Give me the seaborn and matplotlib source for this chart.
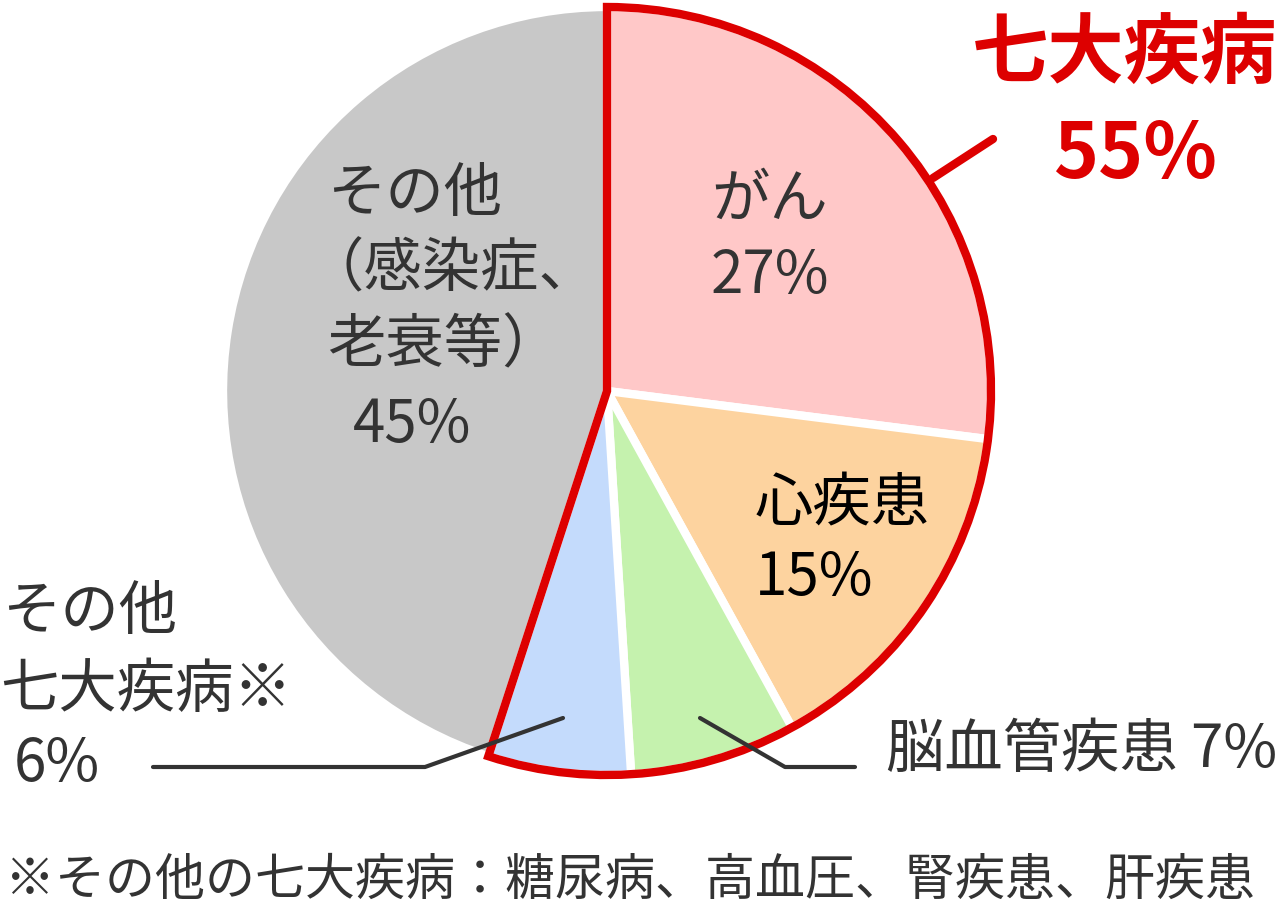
import matplotlib
matplotlib.use('Agg')
import matplotlib.pyplot as plt
from matplotlib.patches import Wedge
import seaborn as sns

# data
labels = ['がん', '心疾患', '脳血管疾患', 'その他七大疾病', 'その他']
shares = [27, 15, 7, 6, 45]
colors = ['#ffc8c8', '#fdd39f', '#c5f2ae', '#c4dbfc', '#c8c8c8']
major_label = '七大疾病'
major_share = sum(shares[:4])
note = '※その他の七大疾病：糖尿病、高血圧、腎疾患、肝疾患'

sns.set_theme(style='white')
plt.rcParams['font.family'] = ['Noto Sans CJK JP', 'DejaVu Sans']

W, H = 1284, 906
RED = '#dd0000'
GREY = '#333333'
fig = plt.figure(figsize=(W / 100, H / 100), dpi=100)

# pie axes: centre and radius in pixels
cx, cy, r = 607, 391, 384
ax = fig.add_axes([(cx - r) / W, (H - cy - r) / H, 2 * r / W, 2 * r / H])
wedges, _ = ax.pie(shares, colors=colors, startangle=90, counterclock=False,
                   radius=1, wedgeprops=dict(edgecolor='white', linewidth=6))
for w in wedges:
    w.set_clip_on(False)

# red outline around the seven major diseases
end = 90 - 360 * major_share / sum(shares)
ax.add_patch(Wedge((0, 0), 1, end, 90, fill=False, edgecolor=RED,
                   linewidth=6, joinstyle='miter', clip_on=False))
ax.set_xlim(-1, 1)
ax.set_ylim(-1, 1)
ax.set_aspect('equal')
ax.axis('off')


def d(x, y):
    return (x - cx) / r, (cy - y) / r


def line(pts, color, lw):
    xs, ys = zip(*[d(*p) for p in pts])
    ax.plot(xs, ys, color=color, lw=lw, solid_capstyle='round', clip_on=False)


line([(563, 718), (425, 767), (153, 767)], GREY, 3)
line([(700, 718), (785, 767), (855, 767)], GREY, 3)
line([(933, 178), (993, 139)], RED, 6)


def t(s, x, y, ha='left', color=GREY, size=42, weight='normal'):
    fig.text(x / W, 1 - y / H, s, ha=ha, va='center', color=color,
             fontsize=size, fontweight=weight)


t(labels[0], 711, 200)
t(f'{shares[0]}%', 711, 277)
t(labels[1], 755, 505, color='black')
t(f'{shares[1]}%', 755, 578, color='black')
t('その他', 327, 195)
t('（感染症、', 305, 270)
t('老衰等）', 327, 346)
t(f'{shares[4]}%', 353, 425)
t(major_label, 1125, 54, ha='center', color=RED, size=55, weight='bold')
t(f'{major_share}%', 1135, 155, ha='center', color=RED, size=55, weight='bold')
t(f'{labels[2]} {shares[2]}%', 886, 750)
t('その他', 2, 612)
t('七大疾病※', 0, 690)
t(f'{shares[3]}%', 14, 765)
t(note, 5, 881, size=36)

fig.savefig('out.png', dpi=100)
